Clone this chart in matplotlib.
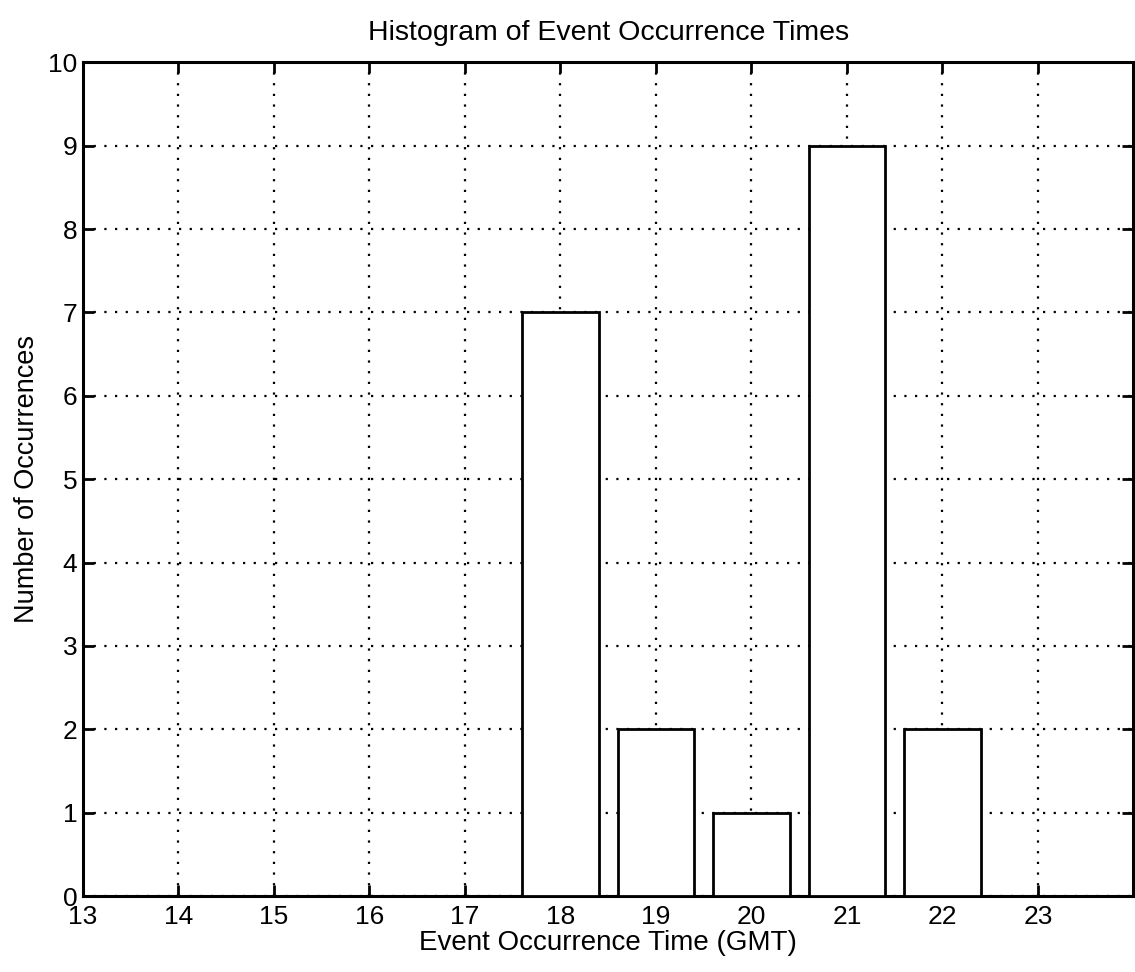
import matplotlib
matplotlib.use("Agg")
import matplotlib.pyplot as plt

# histogram counts per hour (GMT)
hours = [18, 19, 20, 21, 22]
counts = [7, 2, 1, 9, 2]
x_ticks = list(range(13, 24))
y_ticks = list(range(0, 11))

plt.rcParams['font.family'] = ['Liberation Sans', 'DejaVu Sans']

fig = plt.figure(figsize=(11.35, 9.72), dpi=100)
ax = fig.add_axes([0.0731, 0.078, 0.9255, 0.858])

ax.bar(hours, counts, width=0.8, facecolor='white', edgecolor='black',
       linewidth=2, zorder=3)

ax.set_xlim(13, 24)
ax.set_ylim(0, 10)
ax.set_xticks(x_ticks)
ax.set_yticks(y_ticks)
ax.grid(True, color='black', linestyle=(0, (1, 3.8)), linewidth=1.6, zorder=1)

for s in ax.spines.values():
    s.set_linewidth(2.2)
ax.tick_params(direction='in', length=8, width=2, top=True, right=True,
               labelsize=19, pad=4)
ax.tick_params(axis='x', pad=6)

ax.set_title("Histogram of Event Occurrence Times", fontsize=20.5, pad=16)
ax.set_xlabel("Event Occurrence Time (GMT)", fontsize=20, labelpad=1)
ax.set_ylabel("Number of Occurrences", fontsize=19.5, labelpad=6)

fig.savefig("out.png", dpi=100, facecolor='white')
